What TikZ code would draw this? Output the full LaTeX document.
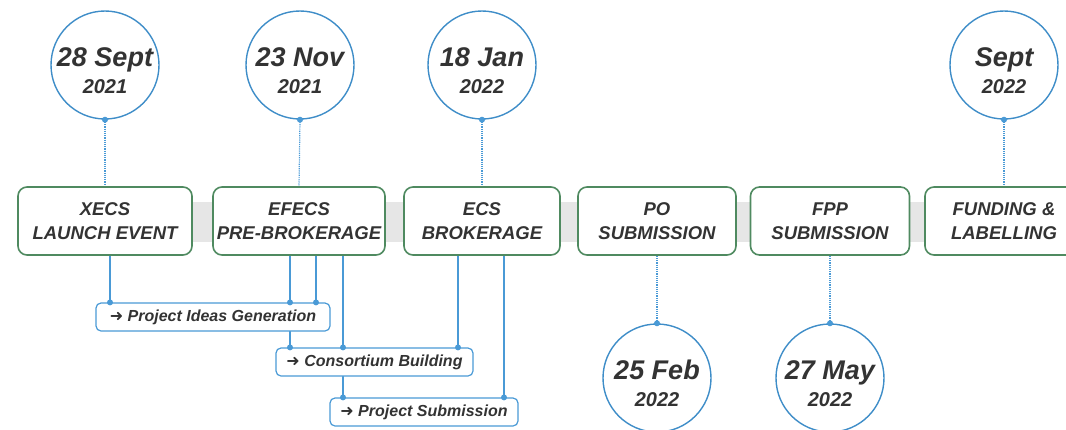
\documentclass[tikz,border=0pt]{standalone}
\usepackage{fontspec}
\setmainfont{Liberation Sans}
\newfontfamily\arrowfont{DejaVu Sans}
\usetikzlibrary{backgrounds}
\definecolor{circleBlue}{HTML}{3E8DC8}
\definecolor{lineBlue}{HTML}{4A9AD6}
\definecolor{boxGreen}{HTML}{4F8A60}
\definecolor{textGray}{HTML}{333333}
\definecolor{bandGray}{HTML}{E6E6E6}
\newcommand{\dateText}[2]{{\fontsize{27}{28}\selectfont\rule{0pt}{30pt}#1}\\#2}
\newcommand{\noteArrow}{{\arrowfont\upshape\mdseries ➜}}
\tikzset{
  %date circle
  dateCircle/.style = {circle, draw=circleBlue, line width=1.4pt, fill=white,
    minimum size=108, inner sep=-20pt, align=center, text=textGray,
    font=\fontsize{20}{27}\selectfont\bfseries\itshape},
  %stage box
  stageBox/.style = {rounded corners=9, draw=boxGreen, line width=1.6pt,
    fill=white, minimum height=68, align=center, text=textGray,
    font=\fontsize{18.5}{24}\selectfont\bfseries\itshape},
  %activity note
  noteBox/.style = {rounded corners=5, draw=lineBlue, line width=1.2pt,
    fill=white, minimum height=28, inner sep=0pt, text=textGray,
    font=\fontsize{16}{18}\selectfont\bfseries\itshape},
  linkLine/.style = {lineBlue, line width=1.2pt},
  dottedLine/.style = {lineBlue, line width=1.2pt, densely dotted},
  dotMark/.style = {circle, fill=lineBlue, inner sep=0pt, minimum size=6}
}

\begin{document}
\begin{tikzpicture}[x=1pt, y=-1pt]
\useasboundingbox (0,0) rectangle (1066,429);
\clip (0,0) rectangle (1066,429);
% dates
\node [dateCircle] (dateA) at (105,65) {\dateText{28 Sept}{2021}};
\node [dateCircle] (dateB) at (300,65) {\dateText{23 Nov}{2021}};
\node [dateCircle] (dateC) at (482,65) {\dateText{18 Jan}{2022}};
\node [dateCircle] (dateF) at (1004,65) {\dateText{Sept}{2022}};
\node [dateCircle] (dateD) at (657,378) {\dateText{25 Feb}{2022}};
\node [dateCircle] (dateE) at (830,378) {\dateText{27 May}{2022}};
% stages
\node [stageBox, minimum width=174] (xecs) at (105,221) {XECS\\LAUNCH EVENT};
\node [stageBox, minimum width=172] (efecs) at (299,221) {EFECS\\PRE-BROKERAGE};
\node [stageBox, minimum width=156] (ecs) at (482,221) {ECS\\BROKERAGE};
\node [stageBox, minimum width=158] (po) at (657,221) {PO\\SUBMISSION};
\node [stageBox, minimum width=159] (fpp) at (830,221) {FPP\\SUBMISSION};
\node [stageBox, minimum width=158] (fund) at (1004,221) {FUNDING \&\\LABELLING};
% activities
\node [noteBox, minimum width=234] (ideas) at (213,317) {\noteArrow{} Project Ideas Generation};
\node [noteBox, minimum width=197] (consort) at (374.5,362) {\noteArrow{} Consortium Building};
\node [noteBox, minimum width=188] (submit) at (424,412) {\noteArrow{} Project Submission};

\begin{pgfonlayer}{background}
\fill [bandGray] (xecs.center |- 0,202) rectangle (1066,242);
\foreach \dt/\st in {dateA/xecs, dateB/efecs, dateC/ecs, dateF/fund}
  \draw [dottedLine] (\dt.south) -- (\st.north);
\foreach \dt/\st in {dateD/po, dateE/fpp}
  \draw [dottedLine] (\st.south) -- (\dt.north);
\draw [linkLine] (110,0 |- xecs.south) -- (110,0 |- ideas.north);
\draw [linkLine] (290,0 |- efecs.south) -- (290,0 |- consort.north);
\draw [linkLine] (316,0 |- efecs.south) -- (316,0 |- ideas.north);
\draw [linkLine] (343,0 |- efecs.south) -- (343,0 |- submit.north);
\draw [linkLine] (458,0 |- ecs.south) -- (458,0 |- consort.north);
\draw [linkLine] (504,0 |- ecs.south) -- (504,0 |- submit.north);
\end{pgfonlayer}

% dots
\foreach \dt in {dateA, dateB, dateC, dateF}
  \node [dotMark] at (\dt.south) {};
\foreach \dt in {dateD, dateE}
  \node [dotMark] at (\dt.north) {};
\foreach \px/\nd in {110/ideas, 290/ideas, 316/ideas, 290/consort, 343/consort,
  458/consort, 343/submit, 504/submit}
  \node [dotMark] at (\px,0 |- \nd.north) {};
\end{tikzpicture}
\end{document}
